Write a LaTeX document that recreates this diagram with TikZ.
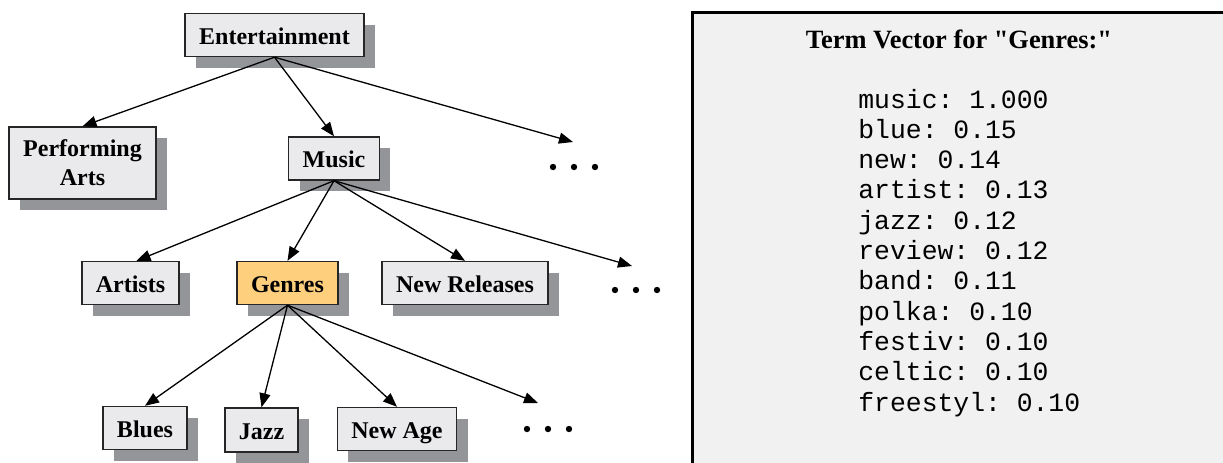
\documentclass[tikz,border=0pt]{standalone}
\usepackage{fontspec}
\setmainfont{Liberation Serif}
\setmonofont{Liberation Mono}
\usetikzlibrary{arrows.meta,shadows}
\definecolor{boxgray}{HTML}{EAEAEC}
\definecolor{shadegray}{HTML}{939598}
\definecolor{genreorange}{HTML}{FED07E}
\definecolor{panelgray}{HTML}{F1F1F1}
\newcommand{\treefont}{\bfseries\fontsize{12}{14.5}\selectfont}
\newcommand{\termfont}{\ttfamily\fontsize{13.2}{15}\selectfont}

\begin{document}
\begin{tikzpicture}[
  x=0.5pt, y=-0.5pt,
  box/.style={draw=black!85, line width=0.7pt, fill=boxgray, align=center,
              minimum height=21.5pt, inner xsep=7pt, inner ysep=2pt, font=\treefont,
              text height=10pt, text depth=1pt,
              drop shadow={shadow xshift=5.5pt, shadow yshift=-5.5pt, fill=shadegray, opacity=1}},
  pick/.style={box, fill=genreorange},
  arr/.style={-{Triangle[length=7pt,width=5.5pt]}, line width=0.65pt},
  panel/.style={draw, line width=1.4pt, fill=panelgray, anchor=north west,
                minimum width=280pt, minimum height=240pt, inner sep=0pt},
  term/.style={font=\termfont, anchor=base west, inner sep=0pt}
]
\useasboundingbox (0,0) rectangle (1223,462);

% tree of categories
\node[box] (ent) at (274.5,35) {Entertainment};
\node[box, text height=, text depth=, minimum height=36pt] (perf) at (82.5,163) {Performing\\Arts};
\node[box] (music) at (334,158.5) {Music};
\node[box] (artists) at (130.5,283) {Artists};
\node[pick] (genres) at (287.5,283) {Genres};
\node[box] (newrel) at (465,283) {New Releases};
\node[box] (blues) at (145,428) {Blues};
\node[box, minimum height=22pt] (jazz) at (261.5,430) {Jazz};
\node[box] (newage) at (397,429) {New Age};

% open ends of the tree
\coordinate (more1) at (573,142);
\coordinate (more2) at (632,266);
\coordinate (more3) at (538,403);
\coordinate (dots1) at (574,167);
\coordinate (dots2) at (636,290);
\coordinate (dots3) at (548,429);
\foreach \d in {dots1,dots2,dots3}
  \fill (\d) ++(-21,0) circle[radius=1.6pt] ++(21,0) circle[radius=1.6pt] ++(21,0) circle[radius=1.6pt];

\draw[arr] (ent.south) -- (perf.north);
\draw[arr] (ent.south) -- (music.north);
\draw[arr] (ent.south) -- (more1);
\draw[arr] (music.south) -- ([xshift=3pt]artists.north);
\draw[arr] (music.south) -- (genres.north);
\draw[arr] (music.south) -- (newrel.north);
\draw[arr] (music.south) -- (more2);
\draw[arr] (genres.south) -- (blues.north);
\draw[arr] (genres.south) -- (jazz.north);
\draw[arr] (genres.south) -- (newage.north);
\draw[arr] (genres.south) -- (more3);

% term vector panel
\node[panel] (vec) at (691,11) {};
\node[font=\bfseries\fontsize{13.2}{15}\selectfont\addfontfeature{Ligatures=TeXOff}, anchor=base] (title) at (959,48) {Term Vector for "Genres:"};
\foreach \t [count=\i from 0] in {music: 1.000, blue: 0.15, new: 0.14, artist: 0.13,
    jazz: 0.12, review: 0.12, band: 0.11, polka: 0.10, festiv: 0.10, celtic: 0.10, freestyl: 0.10}
  \node[term] (term\i) at (858,108+30.3*\i) {\t};
\end{tikzpicture}
\end{document}
